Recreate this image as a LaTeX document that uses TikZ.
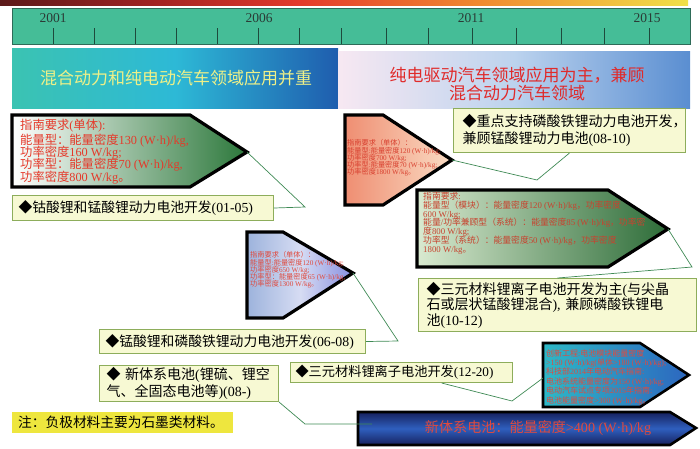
\documentclass[tikz,border=0pt]{standalone}
\usepackage{fontspec}
\setmainfont{Liberation Serif}
\newfontfamily\cjk{Noto Sans CJK SC}
\newfontfamily\latinf{Liberation Serif}
\usetikzlibrary{calc}
% automatic CJK / Latin font switching
\XeTeXinterchartokenstate=1
\newXeTeXintercharclass\cjkcls
\newcount\cjkcnt
\def\setcjkrange#1#2{\cjkcnt=#1\relax\loop\XeTeXcharclass\cjkcnt=\cjkcls\advance\cjkcnt by 1\relax\ifnum\cjkcnt<#2\repeat}
\setcjkrange{"4E00}{"A000}
\setcjkrange{"3000}{"3040}
\setcjkrange{"FF00}{"FFF0}
\setcjkrange{"25A0}{"2600}
\XeTeXinterchartoks 0 \cjkcls = {\cjk}
\XeTeXinterchartoks 4095 \cjkcls = {\cjk}
\XeTeXinterchartoks \cjkcls 0 = {\latinf}
\newcommand{\myfs}[2]{\fontsize{#1}{#2}\selectfont\lineskiplimit=-100pt\lineskip=0pt\relax}

\definecolor{tb1}{HTML}{5C1A1A}
\definecolor{tb2}{HTML}{A02222}
\definecolor{tb3}{HTML}{E43A2C}
\definecolor{tb4}{HTML}{F08A30}
\definecolor{tb5}{HTML}{F0E048}
\definecolor{tlgreen}{HTML}{45BD97}
\definecolor{tlborder}{HTML}{2E6B58}
\definecolor{tickc}{HTML}{1E4A3C}
\definecolor{yeartxt}{HTML}{2B3B36}
\definecolor{bandA}{HTML}{3BC3B2}
\definecolor{bandB}{HTML}{2DB9D6}
\definecolor{bandC}{HTML}{1F5DAE}
\definecolor{bandD}{HTML}{F7E8F2}
\definecolor{bandE}{HTML}{BCD3EE}
\definecolor{bandF}{HTML}{5A8ED1}
\definecolor{bandyel}{HTML}{EEF088}
\definecolor{bandred}{HTML}{E02A2A}
\definecolor{gAR}{HTML}{2C783B}
\definecolor{salL}{HTML}{EF8E72}
\definecolor{salR}{HTML}{FADCC4}
\definecolor{gCL}{HTML}{D9EAD0}
\definecolor{gCR}{HTML}{2D6C38}
\definecolor{blL}{HTML}{9DB3DC}
\definecolor{blM}{HTML}{D6DCF3}
\definecolor{blR}{HTML}{878EE0}
\definecolor{teL}{HTML}{2DB8C6}
\definecolor{teR}{HTML}{2D66BF}
\definecolor{nvO}{HTML}{16215E}
\definecolor{nvM}{HTML}{2F5FBE}
\definecolor{redA}{HTML}{E5392A}
\definecolor{redB}{HTML}{D8402F}
\definecolor{redC}{HTML}{C7432F}
\definecolor{redD}{HTML}{E04A3E}
\definecolor{lbfill}{HTML}{F7F9D3}
\definecolor{lbborder}{HTML}{8DAD5B}
\definecolor{conncol}{HTML}{3F8A55}
\definecolor{noteyel}{HTML}{EEE63E}

\begin{document}
\begin{tikzpicture}[x=1pt,y=-1pt,
  penta/.style={draw=black, line width=3.2pt, line join=miter},
  tick/.style={draw=tickc, line width=0.9pt},
  year/.style={text=yeartxt, font=\myfs{13.5}{15}, inner sep=0pt},
  ptext/.style={anchor=north west, inner sep=0pt, align=left},
  labelbox/.style={draw=lbborder, fill=lbfill, line width=1pt, inner ysep=0pt,
    anchor=north west, align=left, text=black},
  conn/.style={draw=conncol, line width=0.7pt}]
\useasboundingbox (0,0) rectangle (700,448);

% top colour bar
\shade[left color=tb1, right color=tb2] (0,0) rectangle (150.5,5);
\shade[left color=tb2, right color=tb3] (150,0) rectangle (300.5,5);
\shade[left color=tb3, right color=tb4] (300,0) rectangle (480.5,5);
\shade[left color=tb4, right color=tb5] (480,0) rectangle (688,5);

% timeline
\draw[draw=tlborder, fill=tlgreen, line width=0.8pt] (12,8) rectangle (690,44);
\foreach \x in {53,94,135,176,217,258,299,341,386,428,472,516,561,604,649}
  \draw[tick] (\x,28) -- (\x,44);
\node[year] (y2001) at (53,18) {2001};
\node[year] (y2006) at (259,18) {2006};
\node[year] (y2011) at (471,18) {2011};
\node[year] (y2015) at (647,18) {2015};

% bands
\shade[left color=bandA, right color=bandC, middle color=bandB] (12,48) rectangle (338,108);
\shade[left color=bandD, right color=bandF, middle color=bandE] (338,51) rectangle (690,108);
\node[text=bandyel, font=\myfs{17}{20}, inner sep=0pt] (bandL) at (176,78) {混合动力和纯电动汽车领域应用并重};
\node[text=bandred, font=\myfs{17}{18.5}, inner sep=0pt, align=center] (bandR) at (517,84) {纯电驱动汽车领域应用为主，兼顾\\混合动力汽车领域};

% pentagon arrows
\shadedraw[penta, left color=white, right color=gAR] (12,115) -- (190,115) -- (247,152) -- (190,187) -- (12,187) -- cycle;
\coordinate (t1) at (247,152);
\shadedraw[penta, left color=salL, right color=salR] (345,115) -- (383,115) -- (452,160) -- (383,205) -- (345,205) -- cycle;
\coordinate (t2) at (452,160);
\shadedraw[penta, left color=gCL, right color=gCR] (417,190) -- (608,190) -- (668,229) -- (608,267) -- (417,267) -- cycle;
\coordinate (t3) at (668,229);
\shadedraw[penta, left color=blL, right color=blR, middle color=blM] (247,232) -- (283,232) -- (353,273) -- (283,318) -- (247,318) -- cycle;
\coordinate (t4) at (353,273);
\shadedraw[penta, line width=2.6pt, left color=teL, right color=teR] (543,343) -- (640,343) -- (689,375) -- (640,407) -- (543,407) -- cycle;
\coordinate (b5w) at (543,378);
\shadedraw[penta, line width=2.6pt, top color=nvO, bottom color=nvO, middle color=nvM] (358,412) -- (670,412) -- (696,428) -- (670,445) -- (358,445) -- cycle;
\coordinate (b7in) at (372,424);

% texts inside arrows
\node[ptext, text=redA, font=\myfs{12.3}{12.3}] (p1txt) at (20,119) {指南要求(单体):\\[2.5pt]能量型：能量密度130 (W·h)/kg,\\功率密度160 W/kg;\\功率型：能量密度70 (W·h)/kg,\\功率密度800 W/kg。};
\node[ptext, text=redB, font=\myfs{7.2}{7.2}] (p2txt) at (347,139.6) {指南要求（单体）：\\能量型:能量密度120 (W·h)/kg;\\功率密度700 W/kg;\\功率型:能量密度70 (W·h)/kg;\\功率密度1800 W/kg。};
\node[ptext, text=redC, font=\myfs{8.8}{8.8}] (p3txt) at (423,191.8) {指南要求:\\能量型（模块）：能量密度120 (W·h)/kg，功率密度\\600 W/kg;\\能量/功率兼顾型（系统）：能量密度85 (W·h)/kg，功率密\\度800 W/kg;\\功率型（系统）：能量密度50 (W·h)/kg，功率密度\\1800 W/kg。};
\node[ptext, text=redD, font=\myfs{7.2}{7.2}] (p4txt) at (250,251.5) {指南要求（单体）：\\能量型:能量密度120 (W·h)/kg;\\功率密度650 W/kg;\\功率型：能量密度65 (W·h)/kg,\\功率密度1300 W/kg。};
\node[ptext, text=redD, font=\myfs{8}{9.4}] (p5txt) at (546,349) {创新工程:电池模块能量密度\\>150 (W·h)/kg(单体>180 (W·h)/kg);\\科技部2014年电动汽车指南:\\电池系统能量密度为150 (W·h)/kg;\\电动汽车试点专项2015年指南:\\电池能量密度>300 (W·h)/kg。};
\node[text=redD, font=\myfs{14.1}{16}, inner sep=0pt] (p7txt) at (538,428) {新体系电池：能量密度>400 (W·h)/kg};

% connector elbows
\coordinate (e1) at (305,207);
\coordinate (e2) at (537,180);
\coordinate (e3) at (692,267);
\coordinate (e4) at (398,341);
\coordinate (e5) at (305,424);
\coordinate (e6) at (512,401);

% labels
\node[labelbox, font=\myfs{13.8}{16}, inner xsep=6pt, minimum width=261, minimum height=25, text width=249] (lab1) at (12,195) {◆钴酸锂和锰酸锂动力电池开发(01-05)};
\node[labelbox, font=\myfs{14}{17.5}, inner xsep=9pt, minimum width=232, minimum height=44, text width=214] (lab2) at (453,108) {◆重点支持磷酸铁锂动力电池开发，\\兼顾锰酸锂动力电池(08-10)};
\node[labelbox, font=\myfs{14}{15.5}, inner xsep=8pt, minimum width=278, minimum height=53, text width=262] (lab3) at (418,278) {◆三元材料锂离子电池开发为主(与尖晶\\石或层状锰酸锂混合), 兼顾磷酸铁锂电\\池(10-12)};
\node[labelbox, font=\myfs{13.8}{16}, inner xsep=6pt, minimum width=266, minimum height=24, text width=254] (lab4) at (99,329) {◆锰酸锂和磷酸铁锂动力电池开发(06-08)};
\node[labelbox, font=\myfs{14}{16.5}, inner xsep=7pt, minimum width=179, minimum height=36, text width=165] (lab5) at (99,365) {◆ 新体系电池(锂硫、锂空\\气、全固态电池等)(08-)};
\node[labelbox, font=\myfs{13.2}{15}, inner xsep=5pt, minimum width=222, minimum height=20, text width=212] (lab6) at (290,362) {◆三元材料锂离子电池开发(12-20)};
\node[anchor=north west, fill=noteyel, inner xsep=6pt, inner ysep=0pt, minimum width=221, minimum height=21, text width=209, align=left, font=\myfs{13.7}{16}] (note) at (12,412) {注：负极材料主要为石墨类材料。};

\draw[conn] (lab1.east) -- (e1) -- (t1);
\draw[conn] (lab2.south) -- (e2) -- (t2);
\draw[conn] (lab3.north) -- (e3) -- (t3);
\draw[conn] (lab4.east) -- (e4) -- (t4);
\draw[conn] (lab5.south east) -- (e5) -- (b7in);
\draw[conn] ($(lab6.south west)!0.68!(lab6.south east)$) -- (e6) -- (b5w);
\end{tikzpicture}
\end{document}
